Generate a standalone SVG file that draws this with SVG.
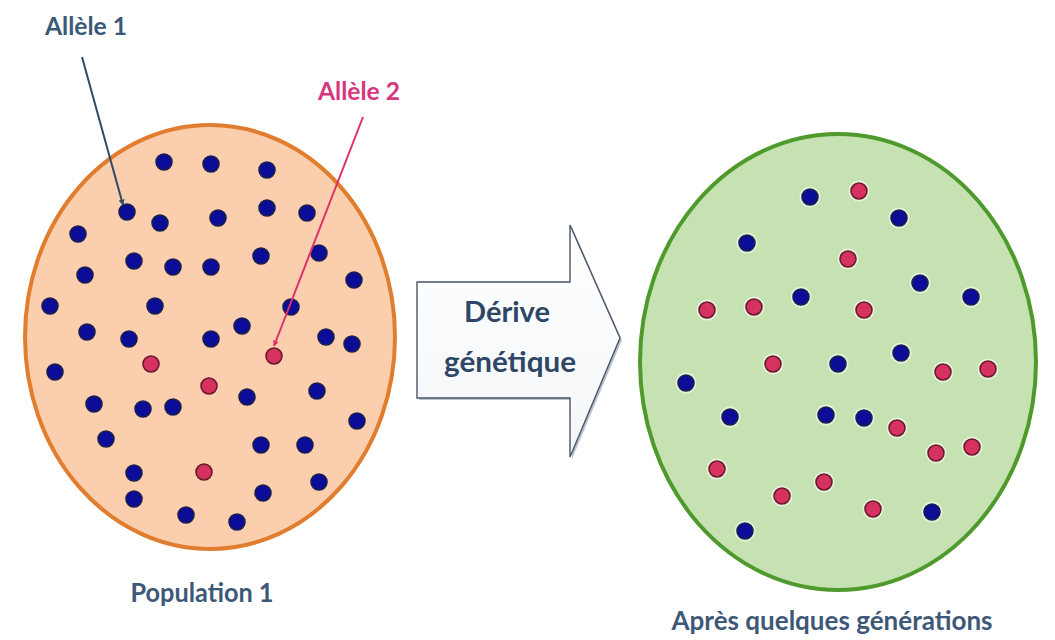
<svg xmlns="http://www.w3.org/2000/svg" width="1055" height="640" viewBox="0 0 1055 640">
  <style>
    .lbl { font-family: Lato, "Open Sans", "Liberation Sans", sans-serif; font-weight: 700; }
    .blue { fill: #0b0c98; stroke: #1c1f4e; stroke-width: 1.6; }
    .red { fill: #d5325f; stroke: #6b1a2c; stroke-width: 1.6; }
    .halo { fill: #ffffff; opacity: 0.55; }
  </style>
  <defs>
    <marker id="headDark" viewBox="0 0 10 10" refX="9" refY="5" markerWidth="6" markerHeight="6" orient="auto-start-reverse" markerUnits="userSpaceOnUse">
      <path d="M0,0 L10,5 L0,10 z" fill="#2f4a66"/>
    </marker>
    <marker id="headPink" viewBox="0 0 10 10" refX="9" refY="5" markerWidth="6" markerHeight="6" orient="auto-start-reverse" markerUnits="userSpaceOnUse">
      <path d="M0,0 L10,5 L0,10 z" fill="#e0306a"/>
    </marker>
    <linearGradient id="arrowFill" x1="0" y1="0" x2="0" y2="1">
      <stop offset="0" stop-color="#ffffff"/>
      <stop offset="1" stop-color="#f4f6f9"/>
    </linearGradient>
  </defs>

  <rect width="1055" height="640" fill="#ffffff"/>

  <!-- Population 1 -->
  <g id="population1">
    <ellipse cx="210" cy="337" rx="185" ry="212" fill="#fbcfae" stroke="#e07d2e" stroke-width="4"/>
    <g>
      <circle class="blue" cx="164" cy="162" r="8"/>
      <circle class="blue" cx="211" cy="164" r="8"/>
      <circle class="blue" cx="267" cy="170" r="8"/>
      <circle class="blue" cx="127" cy="212" r="8"/>
      <circle class="blue" cx="160" cy="223" r="8"/>
      <circle class="blue" cx="218" cy="218" r="8"/>
      <circle class="blue" cx="267" cy="208" r="8"/>
      <circle class="blue" cx="307" cy="213" r="8"/>
      <circle class="blue" cx="78" cy="234" r="8"/>
      <circle class="blue" cx="134" cy="261" r="8"/>
      <circle class="blue" cx="173" cy="267" r="8"/>
      <circle class="blue" cx="211" cy="267" r="8"/>
      <circle class="blue" cx="261" cy="256" r="8"/>
      <circle class="blue" cx="319" cy="253" r="8"/>
      <circle class="blue" cx="85" cy="275" r="8"/>
      <circle class="blue" cx="354" cy="280" r="8"/>
      <circle class="blue" cx="50" cy="306" r="8"/>
      <circle class="blue" cx="155" cy="306" r="8"/>
      <circle class="blue" cx="291" cy="307" r="8"/>
      <circle class="blue" cx="87" cy="332" r="8"/>
      <circle class="blue" cx="129" cy="339" r="8"/>
      <circle class="blue" cx="211" cy="339" r="8"/>
      <circle class="blue" cx="242" cy="326" r="8"/>
      <circle class="blue" cx="326" cy="337" r="8"/>
      <circle class="blue" cx="352" cy="344" r="8"/>
      <circle class="blue" cx="55" cy="372" r="8"/>
      <circle class="blue" cx="247" cy="397" r="8"/>
      <circle class="blue" cx="317" cy="391" r="8"/>
      <circle class="blue" cx="94" cy="404" r="8"/>
      <circle class="blue" cx="143" cy="409" r="8"/>
      <circle class="blue" cx="173" cy="407" r="8"/>
      <circle class="blue" cx="357" cy="421" r="8"/>
      <circle class="blue" cx="106" cy="439" r="8"/>
      <circle class="blue" cx="261" cy="445" r="8"/>
      <circle class="blue" cx="305" cy="445" r="8"/>
      <circle class="blue" cx="134" cy="473" r="8"/>
      <circle class="blue" cx="319" cy="482" r="8"/>
      <circle class="blue" cx="134" cy="499" r="8"/>
      <circle class="blue" cx="263" cy="493" r="8"/>
      <circle class="blue" cx="186" cy="515" r="8"/>
      <circle class="blue" cx="237" cy="522" r="8"/>
      <circle class="red" cx="151" cy="364" r="8"/>
      <circle class="red" cx="209" cy="386" r="8"/>
      <circle class="red" cx="274" cy="356" r="8"/>
      <circle class="red" cx="204" cy="472" r="8"/>
    </g>
    <text class="lbl" x="202" y="602" text-anchor="middle" font-size="26" fill="#3d5878" textLength="143" lengthAdjust="spacingAndGlyphs">Population 1</text>
  </g>

  <!-- Transition arrow -->
  <g id="drift">
    <path d="M419,284 H572 V227 L622,340 L572,459 V400 H419 Z" fill="#9ea6b0" opacity="0.7"/>
    <path d="M417,282 H570 V225 L620,338 L570,457 V398 H417 Z" fill="url(#arrowFill)" stroke="#4a5668" stroke-width="1.4"/>
    <text class="lbl" x="507" y="322" text-anchor="middle" font-size="28" fill="#2e4766" textLength="86" lengthAdjust="spacingAndGlyphs">Dérive</text>
    <text class="lbl" x="510" y="372" text-anchor="middle" font-size="28" fill="#2e4766" textLength="132" lengthAdjust="spacingAndGlyphs">génétique</text>
  </g>

  <!-- After several generations -->
  <g id="population2">
    <ellipse cx="838" cy="362" rx="198" ry="228" fill="#c6e2b2" stroke="#4f9a2c" stroke-width="4"/>
    <g>
      <circle class="halo" cx="810" cy="197" r="10.5"/>
      <circle class="halo" cx="859" cy="191" r="10.5"/>
      <circle class="halo" cx="899" cy="218" r="10.5"/>
      <circle class="halo" cx="747" cy="243" r="10.5"/>
      <circle class="halo" cx="848" cy="259" r="10.5"/>
      <circle class="halo" cx="920" cy="283" r="10.5"/>
      <circle class="halo" cx="971" cy="297" r="10.5"/>
      <circle class="halo" cx="707" cy="310" r="10.5"/>
      <circle class="halo" cx="754" cy="307" r="10.5"/>
      <circle class="halo" cx="801" cy="297" r="10.5"/>
      <circle class="halo" cx="864" cy="310" r="10.5"/>
      <circle class="halo" cx="773" cy="364" r="10.5"/>
      <circle class="halo" cx="838" cy="364" r="10.5"/>
      <circle class="halo" cx="901" cy="353" r="10.5"/>
      <circle class="halo" cx="943" cy="372" r="10.5"/>
      <circle class="halo" cx="988" cy="369" r="10.5"/>
      <circle class="halo" cx="686" cy="383" r="10.5"/>
      <circle class="halo" cx="730" cy="417" r="10.5"/>
      <circle class="halo" cx="826" cy="415" r="10.5"/>
      <circle class="halo" cx="864" cy="418" r="10.5"/>
      <circle class="halo" cx="897" cy="428" r="10.5"/>
      <circle class="halo" cx="936" cy="453" r="10.5"/>
      <circle class="halo" cx="972" cy="447" r="10.5"/>
      <circle class="halo" cx="717" cy="469" r="10.5"/>
      <circle class="halo" cx="824" cy="482" r="10.5"/>
      <circle class="halo" cx="782" cy="496" r="10.5"/>
      <circle class="halo" cx="873" cy="509" r="10.5"/>
      <circle class="halo" cx="932" cy="512" r="10.5"/>
      <circle class="halo" cx="745" cy="531" r="10.5"/>

      <circle class="blue" cx="810" cy="197" r="8"/>
      <circle class="red" cx="859" cy="191" r="8"/>
      <circle class="blue" cx="899" cy="218" r="8"/>
      <circle class="blue" cx="747" cy="243" r="8"/>
      <circle class="red" cx="848" cy="259" r="8"/>
      <circle class="blue" cx="920" cy="283" r="8"/>
      <circle class="blue" cx="971" cy="297" r="8"/>
      <circle class="red" cx="707" cy="310" r="8"/>
      <circle class="red" cx="754" cy="307" r="8"/>
      <circle class="blue" cx="801" cy="297" r="8"/>
      <circle class="red" cx="864" cy="310" r="8"/>
      <circle class="red" cx="773" cy="364" r="8"/>
      <circle class="blue" cx="838" cy="364" r="8"/>
      <circle class="blue" cx="901" cy="353" r="8"/>
      <circle class="red" cx="943" cy="372" r="8"/>
      <circle class="red" cx="988" cy="369" r="8"/>
      <circle class="blue" cx="686" cy="383" r="8"/>
      <circle class="blue" cx="730" cy="417" r="8"/>
      <circle class="blue" cx="826" cy="415" r="8"/>
      <circle class="blue" cx="864" cy="418" r="8"/>
      <circle class="red" cx="897" cy="428" r="8"/>
      <circle class="red" cx="936" cy="453" r="8"/>
      <circle class="red" cx="972" cy="447" r="8"/>
      <circle class="red" cx="717" cy="469" r="8"/>
      <circle class="red" cx="824" cy="482" r="8"/>
      <circle class="red" cx="782" cy="496" r="8"/>
      <circle class="red" cx="873" cy="509" r="8"/>
      <circle class="blue" cx="932" cy="512" r="8"/>
      <circle class="blue" cx="745" cy="531" r="8"/>
    </g>
    <text class="lbl" x="832" y="630" text-anchor="middle" font-size="26" fill="#3d5878" textLength="321" lengthAdjust="spacingAndGlyphs">Après quelques générations</text>
  </g>

  <!-- Allele labels -->
  <g id="allele1">
    <text class="lbl" x="45" y="35" font-size="25" fill="#3b5877" textLength="82" lengthAdjust="spacingAndGlyphs">Allèle 1</text>
  </g>
  <g id="allele2">
    <text class="lbl" x="318" y="100" font-size="24" fill="#d8367c" textLength="82" lengthAdjust="spacingAndGlyphs">Allèle 2</text>
  </g>

  <!-- Pointer connectors -->
  <g id="connectors" fill="none" stroke-width="2">
    <line x1="82" y1="57" x2="123" y2="205" stroke="#2f4a66" marker-end="url(#headDark)"/>
    <line x1="363" y1="117" x2="274" y2="346" stroke="#e0306a" marker-end="url(#headPink)"/>
  </g>
</svg>
